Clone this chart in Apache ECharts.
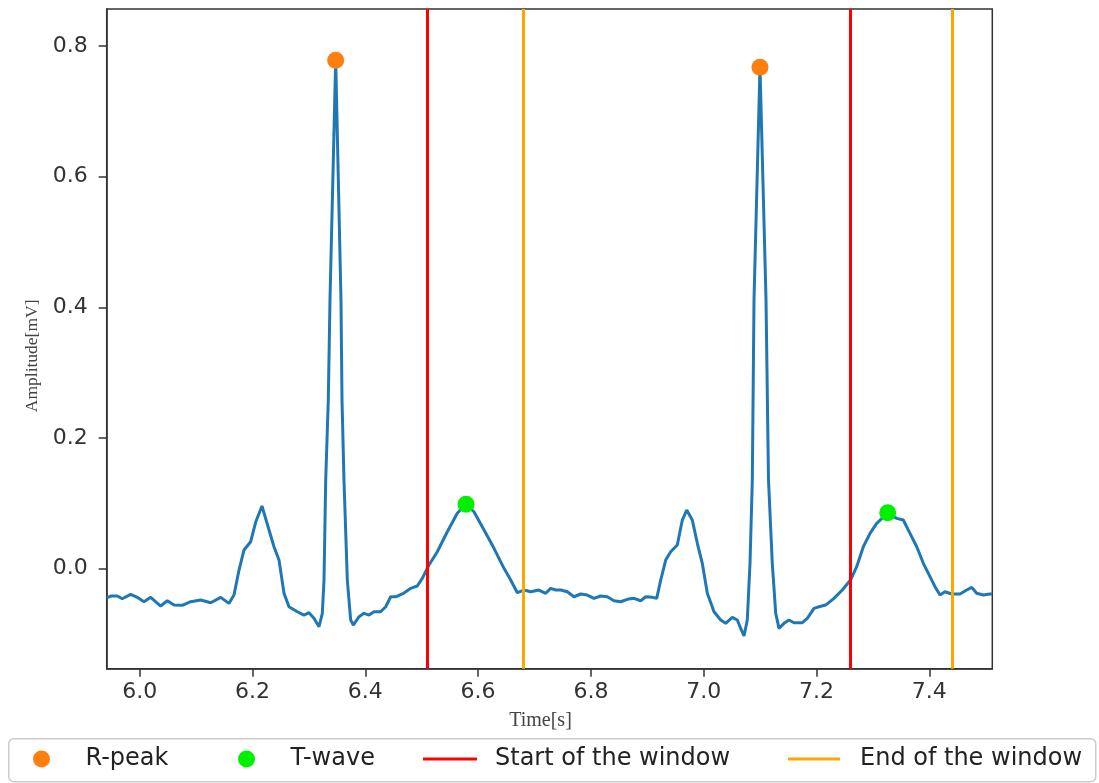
<!DOCTYPE html>
<html>
<head>
<meta charset="utf-8">
<script src="https://cdn.jsdelivr.net/npm/echarts@6/dist/echarts.min.js"></script>
<style>
  html, body { margin: 0; padding: 0; background: #ffffff; }
  #chart { width: 1099px; height: 783px; }
</style>
</head>
<body>
<div id="chart"></div>
<script>
// ECG trace (time in s, amplitude in mV)
const ecgTime = [5.9415, 5.9486, 5.9603, 5.9691, 5.9840, 5.9957, 6.0076, 6.0195, 6.0372, 6.0489,
  6.0608, 6.0755, 6.0904, 6.1082, 6.1259, 6.1436, 6.1583, 6.1672, 6.1761, 6.1849,
  6.1968, 6.2057, 6.2168, 6.2293, 6.2381, 6.2470, 6.2559, 6.2647, 6.2794, 6.2913,
  6.3002, 6.3090, 6.3179, 6.3238, 6.3268, 6.3298, 6.3344, 6.3374, 6.3475, 6.3569,
  6.3587, 6.3622, 6.3681, 6.3741, 6.3787, 6.3888, 6.3977, 6.4066, 6.4154, 6.4273,
  6.4362, 6.4450, 6.4539, 6.4686, 6.4805, 6.4922, 6.5011, 6.5129, 6.5277, 6.5454,
  6.5631, 6.5780, 6.5927, 6.6105, 6.6282, 6.6459, 6.6578, 6.6695, 6.6814, 6.6933,
  6.7080, 6.7199, 6.7287, 6.7376, 6.7465, 6.7582, 6.7700, 6.7819, 6.7936, 6.8055,
  6.8174, 6.8291, 6.8410, 6.8528, 6.8645, 6.8764, 6.8883, 6.8972, 6.9089, 6.9167,
  6.9238, 6.9326, 6.9415, 6.9532, 6.9621, 6.9699, 6.9798, 6.9887, 6.9975, 7.0064,
  7.0183, 7.0301, 7.0390, 7.0507, 7.0596, 7.0656, 7.0715, 7.0773, 7.0821, 7.0862,
  7.0892, 7.0998, 7.1105, 7.1149, 7.1216, 7.1277, 7.1335, 7.1424, 7.1512, 7.1601,
  7.1748, 7.1837, 7.1956, 7.2044, 7.2163, 7.2310, 7.2457, 7.2603, 7.2713, 7.2830,
  7.2949, 7.3067, 7.3259, 7.3422, 7.3539, 7.3658, 7.3777, 7.3894, 7.4012, 7.4101,
  7.4190, 7.4278, 7.4397, 7.4544, 7.4663, 7.4752, 7.4840, 7.4957, 7.5076, 7.5117];
const ecgAmp = [-0.0448, -0.0418, -0.0418, -0.0459, -0.0392, -0.0438, -0.0505, -0.0438, -0.0571, -0.0490,
  -0.0556, -0.0560, -0.0505, -0.0479, -0.0520, -0.0438, -0.0530, -0.0403, -0.0020, 0.0286,
  0.0413, 0.0715, 0.0960, 0.0592, 0.0337, 0.0133, -0.0377, -0.0582, -0.0658, -0.0709,
  -0.0673, -0.0759, -0.0888, -0.0683, -0.0173, 0.1358, 0.2582, 0.4112, 0.7780, 0.4112,
  0.2582, 0.1358, -0.0173, -0.0785, -0.0862, -0.0735, -0.0683, -0.0709, -0.0658, -0.0658,
  -0.0582, -0.0429, -0.0429, -0.0372, -0.0300, -0.0265, -0.0147, 0.0057, 0.0260, 0.0566,
  0.0848, 0.0986, 0.0872, 0.0592, 0.0312, 0.0006, -0.0173, -0.0367, -0.0326, -0.0352,
  -0.0326, -0.0376, -0.0300, -0.0326, -0.0326, -0.0352, -0.0429, -0.0387, -0.0403, -0.0453,
  -0.0418, -0.0429, -0.0490, -0.0505, -0.0468, -0.0453, -0.0490, -0.0429, -0.0438, -0.0453,
  -0.0173, 0.0133, 0.0260, 0.0363, 0.0745, 0.0898, 0.0745, 0.0389, 0.0083, -0.0377,
  -0.0658, -0.0785, -0.0836, -0.0744, -0.0785, -0.0912, -0.1030, -0.0785, 0.0083, 0.1358,
  0.4112, 0.7676, 0.4112, 0.1358, 0.0083, -0.0683, -0.0912, -0.0836, -0.0785, -0.0826,
  -0.0826, -0.0759, -0.0606, -0.0582, -0.0556, -0.0453, -0.0326, -0.0173, 0.0031, 0.0337,
  0.0542, 0.0695, 0.0852, 0.0771, 0.0745, 0.0542, 0.0337, 0.0083, -0.0122, -0.0275,
  -0.0403, -0.0352, -0.0387, -0.0387, -0.0326, -0.0285, -0.0376, -0.0403, -0.0387, -0.0387];

const rPeakTime = [6.3475, 7.0998];
const rPeakAmp = [0.778, 0.7676];
const tWaveTime = [6.5786, 7.3262];
const tWaveAmp = [0.0986, 0.0857];
const windowStart = [6.5124, 7.264];
const windowEnd = [6.683, 7.4355];

const xTicks = [6.0, 6.2, 6.4, 6.6, 6.8, 7.0, 7.2, 7.4];
const yTicks = [0.0, 0.2, 0.4, 0.6, 0.8];
const xRange = [5.9415, 7.5117];
const yRange = [-0.153, 0.8566];

const legendNames = ['R-peak', 'T-wave', 'Start of the window', 'End of the window'];

const zip = (a, b) => a.map((v, i) => [v, b[i]]);
const chart = echarts.init(document.getElementById('chart'), null, { renderer: 'canvas' });

const axisCommon = {
  type: 'value',
  nameLocation: 'middle',
  axisLine: { show: true, onZero: false, lineStyle: { color: '#333', width: 1.5 } },
  splitLine: { show: false }
};

const legendText = { fontFamily: 'DejaVu Sans', fontSize: 24, lineHeight: 24, color: '#222', padding: [0, 0, 0, 13] };
function oneLegend(name, left, opts) {
  return Object.assign({
    left: left, top: 747, padding: 0, orient: 'horizontal',
    itemWidth: 52, itemHeight: 17, selectedMode: false,
    textStyle: legendText, data: [name]
  }, opts || {});
}

const option = {
  animation: false,
  backgroundColor: '#ffffff',
  grid: { left: 106.7, top: 9, right: 106.7, bottom: 114.3, show: true, borderColor: '#333', borderWidth: 1.5 },
  xAxis: Object.assign({}, axisCommon, {
    min: xRange[0], max: xRange[1],
    name: 'Time[s]', nameGap: 42,
    nameTextStyle: { fontFamily: 'Liberation Serif', fontSize: 20, color: '#444', padding: [0, 18, 0, 0] },
    axisTick: { show: true, length: 8, lineStyle: { color: '#333', width: 1.5 }, customValues: xTicks },
    axisLabel: { customValues: xTicks, formatter: v => v.toFixed(1), fontFamily: 'DejaVu Sans', fontSize: 22, color: '#333', margin: 13 }
  }),
  yAxis: Object.assign({}, axisCommon, {
    min: yRange[0], max: yRange[1],
    name: 'Amplitude[mV]', nameGap: 64,
    nameTextStyle: { fontFamily: 'Liberation Serif', fontSize: 17.5, color: '#444', padding: [0, 34, 0, 0] },
    axisTick: { show: true, length: 8, lineStyle: { color: '#333', width: 1.5 }, customValues: yTicks },
    axisLabel: { customValues: yTicks, formatter: v => v.toFixed(1), fontFamily: 'DejaVu Sans', fontSize: 22, color: '#333', margin: 19 }
  }),
  graphic: [{
    type: 'rect', left: 8, top: 738, z: -1, silent: true,
    shape: { width: 1087, height: 43, r: 5 },
    style: { fill: '#ffffff', stroke: '#cccccc', lineWidth: 1.5 }
  }],
  legend: [
    oneLegend(legendNames[0], 33),
    oneLegend(legendNames[1], 238),
    oneLegend(legendNames[2], 423, { itemWidth: 54, itemHeight: 3, icon: 'rect' }),
    oneLegend(legendNames[3], 788, { itemWidth: 52, itemHeight: 3, icon: 'rect',
      textStyle: Object.assign({}, legendText, { padding: [0, 0, 0, 15] }) })
  ],
  series: [
    {
      name: 'ECG', type: 'line', data: zip(ecgTime, ecgAmp),
      showSymbol: false, symbol: 'none', smooth: false, z: 2,
      lineStyle: { color: '#1f77b4', width: 3 }, silent: true
    },
    {
      name: legendNames[2], type: 'line', data: [], symbol: 'none', z: 3,
      itemStyle: { color: '#ff0000' },
      lineStyle: { color: '#ff0000', width: 3 },
      markLine: {
        silent: true, symbol: ['none', 'none'], label: { show: false },
        lineStyle: { color: '#ff0000', width: 3, type: 'solid' },
        emphasis: { disabled: true },
        data: windowStart.map(t => ({ xAxis: t }))
      }
    },
    {
      name: legendNames[3], type: 'line', data: [], symbol: 'none', z: 3,
      itemStyle: { color: '#ffa500' },
      lineStyle: { color: '#ffa500', width: 3 },
      markLine: {
        silent: true, symbol: ['none', 'none'], label: { show: false },
        lineStyle: { color: '#ffa500', width: 3, type: 'solid' },
        emphasis: { disabled: true },
        data: windowEnd.map(t => ({ xAxis: t }))
      }
    },
    {
      name: legendNames[0], type: 'scatter', data: zip(rPeakTime, rPeakAmp),
      symbol: 'circle', symbolSize: 17, z: 4, itemStyle: { color: '#ff7f0e', opacity: 1 }
    },
    {
      name: legendNames[1], type: 'scatter', data: zip(tWaveTime, tWaveAmp),
      symbol: 'circle', symbolSize: 17, z: 4, itemStyle: { color: '#00f000', opacity: 1 }
    }
  ]
};
chart.setOption(option);
</script>
</body>
</html>
